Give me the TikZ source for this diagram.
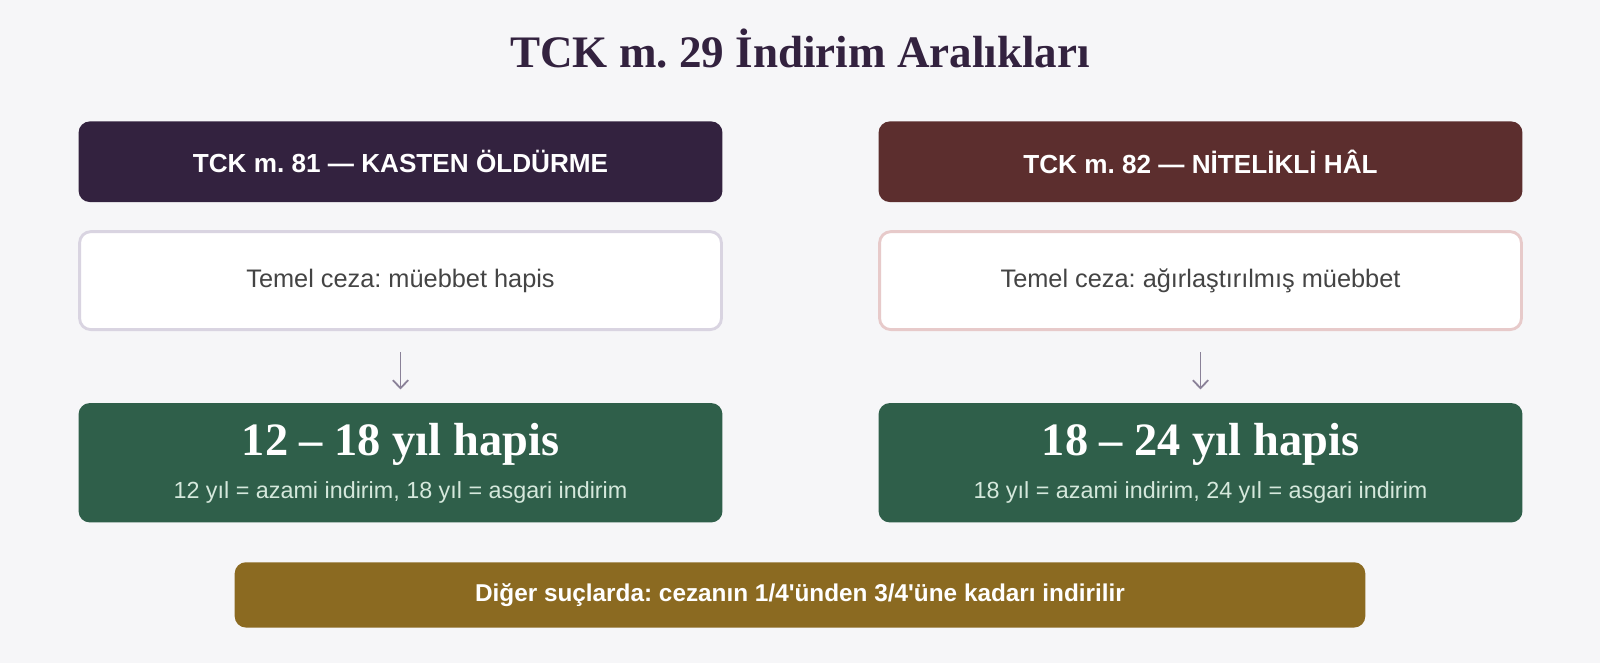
\documentclass[tikz,border=0pt]{standalone}
\usepackage{fontspec}
\setmainfont{Liberation Serif}
\setsansfont{Liberation Sans}
\usetikzlibrary{arrows.meta}
\frenchspacing

\newdimen\pxu \pxu=0.7653pt
\definecolor{bgcol}{HTML}{F6F6F8}
\definecolor{titlecol}{HTML}{33223F}
\definecolor{murdercol}{HTML}{33223F}
\definecolor{qualcol}{HTML}{5C2E2E}
\definecolor{murderline}{HTML}{D9D4E1}
\definecolor{qualline}{HTML}{E7CACA}
\definecolor{bodycol}{HTML}{444444}
\definecolor{arrowcol}{HTML}{8A8198}
\definecolor{rangecol}{HTML}{2F5F4A}
\definecolor{rangesubcol}{HTML}{D5E8DC}
\definecolor{othercol}{HTML}{8B6A21}

\begin{document}
\begin{tikzpicture}[x=0.7653pt, y=-0.7653pt,
    headbox/.style={rounded corners=11\pxu, minimum width=631\pxu, minimum height=79\pxu,
        inner sep=0pt, text=white, font=\sffamily\bfseries\fontsize{19.6}{23}\selectfont},
    basebox/.style={rounded corners=11\pxu, fill=white, line width=2.8\pxu,
        minimum width=629\pxu, minimum height=96\pxu, inner sep=0pt,
        text=bodycol, font=\sffamily\fontsize{19}{22}\selectfont},
    rangebox/.style={rounded corners=11\pxu, fill=rangecol, minimum width=631\pxu,
        minimum height=117\pxu, inner sep=0pt},
    rangebig/.style={anchor=base, inner sep=0pt, text=white,
        font=\bfseries\fontsize{34.8}{40}\selectfont},
    rangesub/.style={anchor=base, inner sep=0pt, text=rangesubcol,
        font=\sffamily\fontsize{17.5}{21}\selectfont},
    flowarrow/.style={draw=arrowcol, line width=1.35pt, shorten <=16pt, shorten >=10pt,
        -{Straight Barb[length=6pt, width=11.5pt]}}]

    \fill[bgcol] (0,0) rectangle (1568,649.7);

    \node[anchor=base, inner sep=0pt, text=titlecol, font=\bfseries\fontsize{33.8}{39}\selectfont]
        (title) at (784,66) {TCK m. 29 İndirim Aralıkları};

    % left column: m. 81
    \node[headbox, fill=murdercol] (lhead) at (392.5,158.5) {TCK m. 81 — KASTEN ÖLDÜRME};
    \node[basebox, draw=murderline] (lbase) at (392.5,275) {Temel ceza: müebbet hapis};
    \node[rangebox] (lrange) at (392.5,453.5) {};
    \node[rangebig] (lrangebig) at (392.5,446) {12 – 18 yıl hapis};
    \node[rangesub] (lrangesub) at (392.5,489) {12 yıl = azami indirim, 18 yıl = asgari indirim};
    \draw[flowarrow] (lbase.south) -- (lrange.north);

    % right column: m. 82
    \node[headbox, fill=qualcol] (rhead) at (1176.5,158.5) {TCK m. 82 — NİTELİKLİ HÂL};
    \node[basebox, draw=qualline] (rbase) at (1176.5,275) {Temel ceza: ağırlaştırılmış müebbet};
    \node[rangebox] (rrange) at (1176.5,453.5) {};
    \node[rangebig] (rrangebig) at (1176.5,446) {18 – 24 yıl hapis};
    \node[rangesub] (rrangesub) at (1176.5,489) {18 yıl = azami indirim, 24 yıl = asgari indirim};
    \draw[flowarrow] (rbase.south) -- (rrange.north);

    \node[rounded corners=11\pxu, fill=othercol, minimum width=1108\pxu, minimum height=64\pxu,
        inner sep=0pt, text=white, font=\sffamily\bfseries\fontsize{18.25}{22}\selectfont]
        (other) at (784,583) {Diğer suçlarda: cezanın 1/4\textquotesingle ünden 3/4\textquotesingle üne kadarı indirilir};
\end{tikzpicture}
\end{document}
